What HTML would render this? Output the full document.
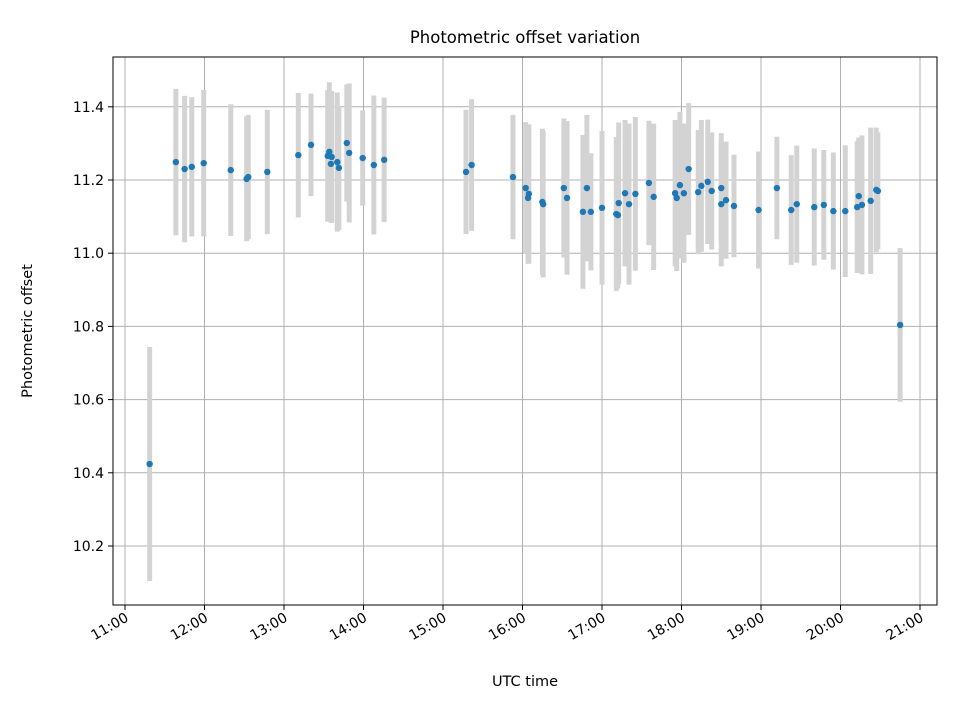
<!DOCTYPE html>
<html><head><meta charset="utf-8"><style>
body{margin:0;background:#fff;font-family:"Liberation Sans","DejaVu Sans",sans-serif}
svg text{font-family:"DejaVu Sans","Liberation Sans",sans-serif}
</style></head><body>
<svg id="chart" width="960" height="720" viewBox="0 0 960 720">
<rect width="960" height="720" fill="#fff"/>
<g id="grid"></g><g id="bars"></g><g id="pts"></g>
<rect x="113" y="57" width="824" height="548" fill="none" stroke="#000" stroke-width="1"/>
<g id="axes"></g>
<text x="525" y="43" text-anchor="middle" font-size="16.5">Photometric offset variation</text>
<text x="525" y="686" text-anchor="middle" font-size="14.5">UTC time</text>
<text x="32" y="331" text-anchor="middle" font-size="14.5" transform="rotate(-90 32 331)">Photometric offset</text>
</svg>
<script>
const times=[11.31,11.64,11.75,11.84,11.99,12.33,12.53,12.55,12.79,13.18,13.34,13.55,13.57,13.59,13.60,13.67,13.69,13.79,13.82,13.99,14.13,14.26,15.29,15.36,15.88,16.04,16.08,16.07,16.25,16.26,16.52,16.56,16.76,16.81,16.86,17.00,17.18,17.20,17.21,17.29,17.34,17.42,17.59,17.65,17.92,17.94,17.98,18.03,18.09,18.21,18.25,18.33,18.38,18.50,18.50,18.56,18.66,18.97,19.20,19.38,19.45,19.67,19.79,19.91,20.06,20.21,20.23,20.27,20.38,20.45,20.47,20.75];
const values=[10.424,11.249,11.230,11.236,11.246,11.227,11.203,11.208,11.222,11.268,11.296,11.266,11.277,11.244,11.263,11.249,11.233,11.301,11.274,11.260,11.241,11.255,11.222,11.241,11.208,11.178,11.162,11.151,11.140,11.134,11.178,11.151,11.113,11.178,11.113,11.124,11.107,11.104,11.137,11.164,11.134,11.162,11.192,11.154,11.164,11.151,11.186,11.164,11.230,11.167,11.184,11.195,11.170,11.178,11.134,11.145,11.129,11.118,11.178,11.118,11.134,11.126,11.132,11.115,11.115,11.126,11.156,11.132,11.143,11.173,11.170,10.804];
const errors=[0.32,0.20,0.20,0.19,0.20,0.18,0.17,0.17,0.17,0.17,0.14,0.18,0.19,0.16,0.18,0.19,0.17,0.16,0.19,0.13,0.19,0.17,0.17,0.18,0.17,0.18,0.19,0.18,0.20,0.20,0.19,0.21,0.21,0.20,0.16,0.21,0.21,0.20,0.22,0.20,0.22,0.21,0.17,0.20,0.20,0.20,0.20,0.19,0.18,0.17,0.18,0.17,0.16,0.15,0.17,0.16,0.14,0.16,0.14,0.15,0.16,0.16,0.15,0.16,0.18,0.18,0.16,0.19,0.20,0.17,0.16,0.21];
const xTicks=[11,12,13,14,15,16,17,18,19,20,21];
const xTickLabels=["11:00","12:00","13:00","14:00","15:00","16:00","17:00","18:00","19:00","20:00","21:00"];
const yTicks=[10.2,10.4,10.6,10.8,11.0,11.2,11.4];
const yTickLabels=["10.2","10.4","10.6","10.8","11.0","11.2","11.4"];

const NS="http://www.w3.org/2000/svg";
const X=h=>125+(h-11)*79.5;
const Y=v=>180-(v-11.2)*366;
function mk(tag,attrs,parent){const e=document.createElementNS(NS,tag);for(const k in attrs)e.setAttribute(k,attrs[k]);document.getElementById(parent).appendChild(e);return e;}
xTicks.forEach((t,i)=>{
  const x=X(t);
  const g=mk('line',{x1:x,x2:x,y1:57,y2:605,stroke:'#b0b0b0','stroke-width':1},'grid');
  
  
  const tk=mk('line',{x1:x,x2:x,y1:605,y2:610,stroke:'#000'},'axes');
  
  
  const tx=mk('text',{x:x+2,y:621,'font-size':14,'text-anchor':'end',transform:`rotate(-30 ${x+2} 616)`},'axes');
  tx.textContent=xTickLabels[i];
  
  
});
yTicks.forEach((v,i)=>{
  const y=Y(v);
  const g=mk('line',{x1:113,x2:937,y1:y,y2:y,stroke:'#b0b0b0','stroke-width':1},'grid');
  
  
  const tk=mk('line',{x1:108,x2:113,y1:y,y2:y,stroke:'#000'},'axes');
  
  
  const tx=mk('text',{x:104,y:y+5,'font-size':14,'text-anchor':'end'},'axes');
  tx.textContent=yTickLabels[i];
  
  
});
times.forEach((t,i)=>{
  const x=X(t);
  const b=mk('line',{x1:x,x2:x,y1:Y(values[i]+errors[i]),y2:Y(values[i]-errors[i]),stroke:'#d3d3d3','stroke-width':5},'bars');
  
  
  const c=mk('circle',{cx:x,cy:Y(values[i]),r:3.2,fill:'#1f77b4'},'pts');
  
  
});
</script>
</body></html>
